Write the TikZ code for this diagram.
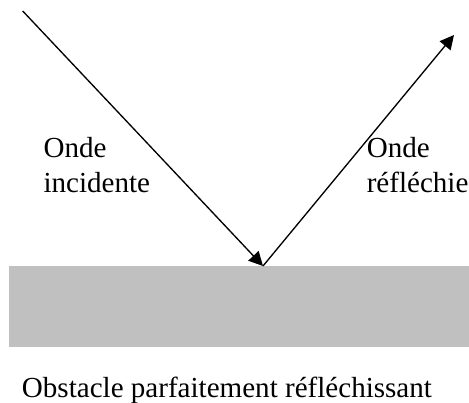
\documentclass[tikz,border=0pt]{standalone}
\usepackage{fontspec}
\setmainfont{Liberation Serif}
\usetikzlibrary{arrows.meta}
\definecolor{obst}{HTML}{C0C0C0}
\tikzset{
  wave/.style={line width=1pt, -{Triangle[length=10.5pt,width=10.5pt]}},
  lbl/.style={anchor=base west, inner sep=0pt, font=\fontsize{21.8}{25}\selectfont},
}
\begin{document}
\begin{tikzpicture}[x=0.75pt,y=-0.75pt]
\useasboundingbox (0,0) rectangle (469,403);
\fill[obst] (9,266) rectangle (469,347);
\node[coordinate] (src) at (22.7,11) {};
\node[coordinate] (hit) at (263,266) {};
\node[coordinate] (dst) at (454,35) {};
\draw[wave] (src) -- (hit);
\draw[wave] (hit) -- (dst);
\node[lbl] (l1) at (43.3,158) {Onde};
\node[lbl] (l2) at (43.3,193) {incidente};
\node[lbl] (r1) at (366.5,158) {Onde};
\node[lbl] (r2) at (366.5,193) {réfléchie};
\node[lbl] (obs) at (21.7,397.5) {Obstacle parfaitement réfléchissant};
\end{tikzpicture}
\end{document}
